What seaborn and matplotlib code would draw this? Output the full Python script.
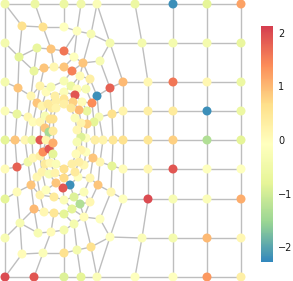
import numpy as np
import pandas as pd
import matplotlib
matplotlib.use("Agg")
import matplotlib.pyplot as plt
import seaborn as sns
from matplotlib.collections import LineCollection
from matplotlib.colors import LinearSegmentedColormap, Normalize

sns.set_theme(style="white")
plt.rcParams["font.family"] = ["DejaVu Sans"]

# node layout (pixel units, y down), rings around the focus
# ring 0: outer frame of the bent part (closed loop)
r0_x = [5, 35, 64, 81, 97, 135, 142, 148, 148, 148, 148, 148, 142, 135, 97, 81, 64, 34, 5, 5, 5, 5, 5, 5, 5, 5]
r0_y = [4, 4, 4, 4, 4, 4, 43, 82, 111, 140, 169, 199, 238, 277, 277, 277, 277, 277, 277, 238, 199, 169, 140, 111, 82, 43]
r0_v = [-0.5, -0.6, -0.6, -0.5, -0.2, -0.6, -0.4, 0.1, 0.3, 0.5, 0.1, 2.0, -0.2, -0.1, -0.2, -0.8, -0.9, 1.9, 2.0,
        -0.3, -0.8, 0.0, -0.8, -0.2, -0.4, -0.4]

r1_x = [22, 43, 64, 77, 91, 110, 123, 123, 123, 123, 123, 110, 91, 77, 64, 43, 22, 20, 17, 17, 15, 17, 18, 19]
r1_y = [26, 27, 27, 31, 34, 43, 82, 111, 140, 169, 199, 237, 247, 250, 253, 253, 254, 223, 192, 167, 140, 114, 88, 57]
r1_v = [0.6, 0.6, -0.1, -0.1, -0.3, -0.4, 1.0, 0.2, 0.6, 0.0, -0.1, -0.1, 0.6, -0.4, 0.6, -0.2, 0.0, -0.3, 0.0,
        1.8, 0.9, -0.7, 0.9, -0.8]

r2_x = [37, 51, 64, 74, 83, 100, 110, 112, 113, 112, 111, 100, 84, 74, 64, 51, 38, 34, 31, 28, 25, 28, 31, 34]
r2_y = [48, 49, 51, 57, 63, 61, 88, 114, 140, 166, 192, 219, 217, 224, 230, 232, 233, 209, 185, 162, 140, 117, 96, 71]
r2_v = [-0.7, 0.9, 1.6, -0.1, 0.9, -0.3, 1.8, 0.6, 0.5, -0.8, 0.1, -0.1, 0.0, -0.4, -0.4, 0.0, -0.3, 1.0, 0.9,
        -0.5, 0.1, 0.1, 0.1, -0.7]

r3_x = [44, 54, 64, 72, 80, 90, 97, 99, 103, 100, 98, 90, 80, 72, 64, 54, 44, 40, 37, 33, 32, 33, 37, 40]
r3_y = [68, 67, 67, 71, 76, 79, 96, 117, 140, 162, 185, 202, 204, 209, 214, 213, 212, 195, 177, 158, 140, 122, 103, 86]
r3_v = [0.9, 0.1, 0.9, 1.5, 0.0, 0.3, -2.2, -0.3, 0.2, 0.1, 0.9, 0.1, -1.3, -0.8, -0.8, 0.5, 0.1, 0.2, 0.1,
        0.1, -0.7, 0.0, 0.9, 0.2]

r4_x = [46, 51, 64, 71, 77, 86, 92, 94, 95, 93, 90, 84, 74, 64, 54, 46, 42, 40, 40, 40, 42]
r4_y = [92, 87, 81, 86, 89, 89, 103, 122, 140, 158, 178, 192, 197, 200, 197, 190, 172, 156, 140, 122, 106]
r4_v = [0.0, -0.3, -0.3, -0.6, 0.0, -0.3, 1.4, -0.8, 0.3, 0.9, 0.1, -0.2, -0.9, -0.2, 0.4, -0.1, 0.2, 0.3,
        1.9, 0.1, 0.2]

r5_x = [64, 75, 82, 87, 87, 86, 86, 84, 78, 70, 63, 56, 49, 45, 43, 46, 45, 45, 48, 55]
r5_y = [92, 95, 102, 111, 124, 138, 152, 165, 177, 185, 188, 183, 174, 164, 152, 140, 128, 116, 104, 96]
r5_v = [-0.2, 1.9, 0.0, -0.7, 0.8, -0.1, -0.1, 0.1, -0.1, -2.2, 1.9, 0.9, -0.3, 0.4, 1.4, 0.2, 0.9, -0.3, 0.4, 0.3]

r6_x = [64, 73, 79, 81, 81, 81, 79, 75, 64, 55, 50, 49, 49, 50, 52, 56]
r6_y = [99, 102, 110, 123, 137, 150, 162, 172, 178, 173, 163, 149, 132, 119, 108, 101]
r6_v = [0.5, 0.8, 1.0, 0.2, -0.9, 0.2, 0.3, 0.4, 0.7, 0.2, 0.1, 1.9, -1.4, 0.6, 0.4, 0.3]

r7_x = [64, 71, 75, 77, 77, 76, 72, 64, 56, 53, 53, 53, 53, 56]
r7_y = [104, 108, 118, 130, 142, 154, 164, 169, 164, 154, 143, 131, 119, 108]
r7_v = [0.3, 0.5, -0.2, 0.1, -0.3, 0.0, 0.3, 0.6, -0.2, -0.8, 1.1, 0.4, 0.6, 0.2]

# links ring 1 -> ring 0 (index in ring 0, index in ring 1)
spokes_01 = [(0, 0), (1, 1), (2, 2), (3, 3), (4, 4), (4, 5), (6, 5), (7, 6), (8, 7), (9, 8), (10, 9),
             (11, 10), (12, 11), (14, 11), (14, 12), (15, 13), (16, 14), (17, 15), (18, 16), (19, 17),
             (20, 18), (21, 19), (22, 20), (23, 21), (24, 22), (25, 23)]

# regular grid on the right
grid_x = [173, 207, 241]
grid_y = [4, 43, 82, 111, 140, 169, 199, 238, 277]
grid_v6 = [-2.2, -0.4, 1.6, 0.4, 0.8, 1.9, -0.3, -0.4, -0.1]
grid_v7 = [-0.8, -0.4, 0.1, -2.2, -1.3, -0.1, -0.2, 1.0, 1.3]
grid_v8 = [1.2, -0.7, -0.6, -0.6, -0.8, -0.1, 1.1, 0.1, 0.3]

vmin, vmax = -2.28, 2.13
# 7-class brewer Spectral, low -> high
spectral7 = ["#3288BD", "#99D594", "#E6F598", "#FFFFBF", "#FEE08B", "#FC8D59", "#D53E4F"]
cmap = LinearSegmentedColormap.from_list("spectral7", spectral7)

rings = [(r0_x, r0_y, r0_v), (r1_x, r1_y, r1_v), (r2_x, r2_y, r2_v), (r3_x, r3_y, r3_v),
         (r4_x, r4_y, r4_v), (r5_x, r5_y, r5_v), (r6_x, r6_y, r6_v), (r7_x, r7_y, r7_v)]

xs, ys, vs, offsets = [], [], [], []
for rx, ry, rv in rings:
    offsets.append(len(xs))
    xs += rx
    ys += ry
    vs += rv
grid_off = len(xs)
for gx, gv in zip(grid_x, [grid_v6, grid_v7, grid_v8]):
    xs += [gx] * len(grid_y)
    ys += grid_y
    vs += gv
nodes = pd.DataFrame({"x": xs, "y": ys, "value": vs})

edges = []
for k, (rx, ry, rv) in enumerate(rings):
    n = len(rx)
    for i in range(n):
        edges.append((offsets[k] + i, offsets[k] + (i + 1) % n))
for a, b in spokes_01:
    edges.append((offsets[0] + a, offsets[1] + b))
# inner rings: each node tied to the closest node of the ring outside it
for k in range(2, len(rings)):
    ox, oy = np.array(rings[k - 1][0]), np.array(rings[k - 1][1])
    for i, (px, py) in enumerate(zip(rings[k][0], rings[k][1])):
        j = int(np.argmin((ox - px) ** 2 + (oy - py) ** 2))
        edges.append((offsets[k] + i, offsets[k - 1] + j))
nrow = len(grid_y)
for r in range(nrow):
    chain = [offsets[0] + 5 + r] + [grid_off + c * nrow + r for c in range(3)]
    edges += list(zip(chain[:-1], chain[1:]))
for c in range(3):
    for r in range(nrow - 1):
        edges.append((grid_off + c * nrow + r, grid_off + c * nrow + r + 1))

segs = [[(xs[a], ys[a]), (xs[b], ys[b])] for a, b in edges]

fig = plt.figure(figsize=(2.93, 2.81), dpi=100)
ax = fig.add_axes([0, 0, 1, 1])
ax.add_collection(LineCollection(segs, colors="#BEBEBE", linewidths=1.0, zorder=1))
sns.scatterplot(data=nodes, x="x", y="y", hue="value", palette=cmap, hue_norm=(vmin, vmax),
                s=42, linewidth=0, legend=False, ax=ax, zorder=2, clip_on=False)
ax.set_xlim(0, 293)
ax.set_ylim(281, 0)
ax.set_axis_off()

sm = matplotlib.cm.ScalarMappable(norm=Normalize(vmin, vmax), cmap=cmap)
cax = fig.add_axes([260.5 / 293, (281 - 262) / 281, 12 / 293, 236 / 281])
cb = fig.colorbar(sm, cax=cax, ticks=[-2, -1, 0, 1, 2])
cb.outline.set_visible(False)
cax.yaxis.set_ticks_position("both")
cax.tick_params(axis="y", direction="in", length=2.4, width=0.6, color="white",
                labelleft=False, labelright=True, labelsize=7, pad=4, labelcolor="#1A1A1A")

fig.savefig("out.png", dpi=100)
